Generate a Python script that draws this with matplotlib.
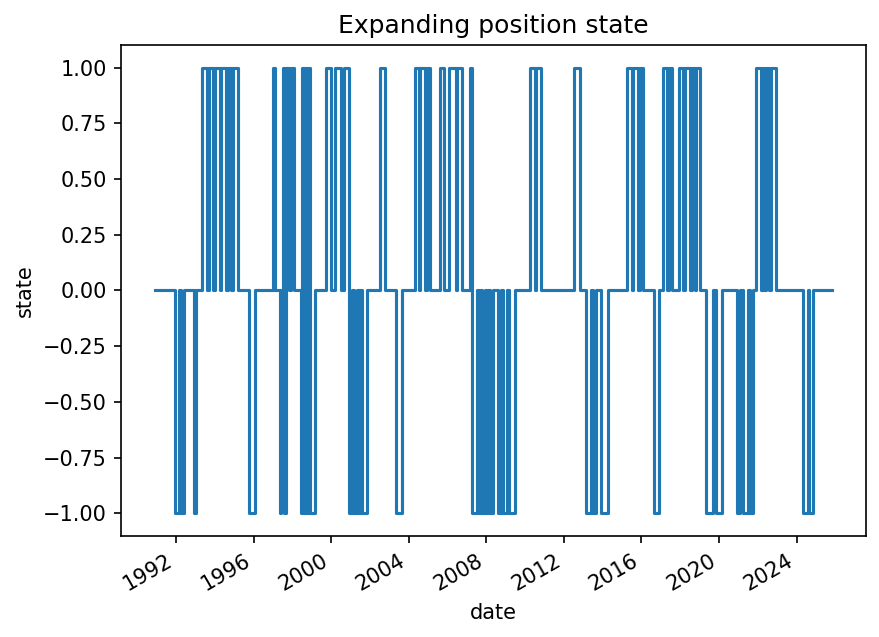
import pandas as pd
import matplotlib
matplotlib.use("Agg")
import matplotlib.pyplot as plt
import matplotlib.dates as mdates

# months where the position state changes
change_dates = [
    "1990-12", "1991-12", "1992-03", "1992-04", "1992-06", "1992-12", "1993-01",
    "1993-05", "1993-08", "1993-09", "1993-12", "1994-01", "1994-04", "1994-05",
    "1994-08", "1994-09", "1994-11", "1994-12", "1995-03", "1995-10", "1996-02",
    "1997-01", "1997-02", "1997-05", "1997-06", "1997-07", "1997-08", "1997-09",
    "1997-11", "1997-12", "1998-02", "1998-06", "1998-07", "1998-08", "1998-09",
    "1998-10", "1998-11", "1998-12", "1999-03", "1999-10", "2000-01", "2000-03",
    "2000-07", "2000-09", "2000-12", "2001-02", "2001-03", "2001-05", "2001-06",
    "2001-07", "2001-08", "2001-11", "2002-07", "2002-10", "2003-05", "2003-09",
    "2004-05", "2004-07", "2004-08", "2004-11", "2004-12", "2005-02", "2005-08",
    "2005-11", "2006-02", "2006-06", "2006-07", "2006-10", "2007-03", "2007-04",
    "2007-07", "2007-08", "2007-09", "2007-10", "2007-12", "2008-01", "2008-02",
    "2008-03", "2008-05", "2008-08", "2008-10", "2008-11", "2009-02", "2009-03",
    "2009-07", "2010-04", "2010-07", "2010-08", "2010-11", "2012-07", "2012-11",
    "2013-03", "2013-06", "2013-07", "2013-09", "2013-12", "2014-04", "2015-04",
    "2015-07", "2015-08", "2015-11", "2015-12", "2016-02", "2016-09", "2016-12",
    "2017-02", "2017-05", "2017-06", "2017-08", "2017-12", "2018-03", "2018-04",
    "2018-07", "2018-08", "2018-10", "2018-11", "2019-01", "2019-05", "2019-09",
    "2019-11", "2020-03", "2020-12", "2021-02", "2021-04", "2021-07", "2021-08",
    "2021-10", "2021-12", "2022-03", "2022-04", "2022-05", "2022-06", "2022-08",
    "2022-09", "2022-12", "2024-05", "2024-08", "2024-09", "2024-11",
]
change_states = [
    0, -1, 0, -1, 0, -1, 0,
    1, 0, 1, 0, 1, 0, 1,
    0, 1, 0, 1, 0, -1, 0,
    1, 0, -1, 0, 1, -1, 1,
    0, 1, 0, -1, 1, -1, 1,
    -1, 1, -1, 0, 1, 0, 1,
    0, 1, -1, 0, -1, 0, -1,
    0, -1, 0, 1, 0, -1, 0,
    1, 0, 1, 0, 1, 0, 1,
    0, 1, 0, 1, 0, 1, -1,
    0, -1, 0, -1, 0, -1, 0,
    -1, 0, -1, 0, -1, 0, -1,
    0, 1, 0, 1, 0, 1, 0,
    -1, 0, -1, 0, -1, 0, 1,
    0, 1, 0, 1, 0, -1, 0,
    1, 0, 1, 0, 1, 0, 1,
    0, 1, 0, 1, 0, -1, 0,
    -1, 0, -1, 0, -1, 0, -1,
    0, 1, 0, 1, 0, 1, 0,
    1, 0, -1, 0, -1, 0,
]
start, end = "1990-12", "2025-11"

changes = pd.Series(change_states, index=pd.to_datetime(change_dates))
months = pd.date_range(start, end, freq="MS")
state = changes.reindex(months, method="ffill")

fig, ax = plt.subplots(figsize=(880 / 150, 637 / 150), dpi=150)
ax.plot(state.index, state.values, drawstyle="steps-post")
ax.set_title("Expanding position state")
ax.set_xlabel("date")
ax.set_ylabel("state")
ax.xaxis.set_major_locator(mdates.YearLocator(4))
ax.xaxis.set_major_formatter(mdates.DateFormatter("%Y"))
fig.autofmt_xdate()
fig.subplots_adjust(left=0.138, right=0.984, top=0.929, bottom=0.159)
fig.savefig("out.png", dpi=150)
